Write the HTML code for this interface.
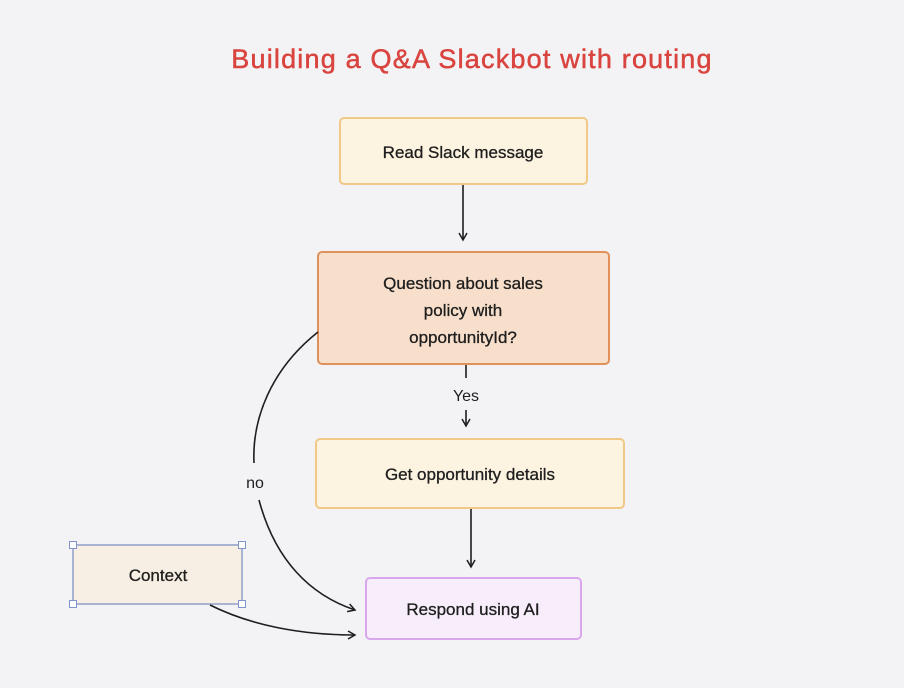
<!DOCTYPE html>
<html><head><meta charset="utf-8"><style>
html,body{margin:0;padding:0;background:#f3f3f6;}
svg{display:block;}
text{font-family:"Comic Sans MS","Liberation Sans",sans-serif;fill:#1e1e1e;}
</style></head><body>
<svg width="904" height="688" viewBox="0 0 904 688" xmlns="http://www.w3.org/2000/svg">
<defs><marker id="a" markerWidth="10" markerHeight="10" refX="8" refY="5" orient="auto" markerUnits="userSpaceOnUse"><path d="M1,1 L8,5 L1,9" fill="none" stroke="#1e1e1e" stroke-width="1.5"/></marker></defs>
<rect width="904" height="688" fill="#f3f3f6"/>
<text x="472" y="68" text-anchor="middle" font-size="27" style="fill:#d9443f;stroke:#d9443f;stroke-width:0.5" letter-spacing="1.2">Building a Q&amp;A Slackbot with routing</text>
<rect x="340" y="118" width="247" height="66" rx="4" fill="#fdf3e1" stroke="#f0c987" stroke-width="2"/>
<text x="463" y="158" text-anchor="middle" font-size="17" style="stroke:#1e1e1e;stroke-width:0.3">Read Slack message</text>
<rect x="318" y="252" width="291" height="112" rx="4" fill="#f8dfcb" stroke="#e0915a" stroke-width="2"/>
<g style="stroke:#1e1e1e;stroke-width:0.3">
<text x="463" y="289" text-anchor="middle" font-size="17">Question about sales</text>
<text x="463" y="316" text-anchor="middle" font-size="17">policy with</text>
<text x="463" y="343" text-anchor="middle" font-size="17">opportunityId?</text>
</g>
<rect x="316" y="439" width="308" height="69" rx="4" fill="#fdf3e1" stroke="#f0c987" stroke-width="2"/>
<text x="470" y="480" text-anchor="middle" font-size="17" style="stroke:#1e1e1e;stroke-width:0.3">Get opportunity details</text>
<rect x="366" y="578" width="215" height="61" rx="4" fill="#f8eefb" stroke="#d9a8ec" stroke-width="2"/>
<text x="473" y="615" text-anchor="middle" font-size="17" style="stroke:#1e1e1e;stroke-width:0.3">Respond using AI</text>
<rect x="73" y="545" width="169" height="59" fill="#f8efe4" stroke="#8fa0c8" stroke-width="1.5"/>
<text x="158" y="581" text-anchor="middle" font-size="17" style="stroke:#1e1e1e;stroke-width:0.3">Context</text>
<g fill="#fff" stroke="#7f95cc" stroke-width="1"><rect x="69.5" y="541.5" width="7" height="7"/><rect x="238.5" y="541.5" width="7" height="7"/><rect x="69.5" y="600.5" width="7" height="7"/><rect x="238.5" y="600.5" width="7" height="7"/></g>
<g stroke="#1e1e1e" stroke-width="1.6" fill="none">
<line x1="463" y1="185" x2="463" y2="240" marker-end="url(#a)"/>
<line x1="466" y1="365" x2="466" y2="378"/>
<line x1="466" y1="410" x2="466" y2="426" marker-end="url(#a)"/>
<line x1="471" y1="509" x2="471" y2="567" marker-end="url(#a)"/>
<path d="M318,332 C270,370 252,420 254,463"/>
<path d="M259,500 C275,560 310,595 355,610" marker-end="url(#a)"/>
<path d="M210,605 C250,625 300,635 355,635" marker-end="url(#a)"/>
</g>
<text x="466" y="401" text-anchor="middle" font-size="16">Yes</text>
<text x="255" y="488" text-anchor="middle" font-size="16">no</text>
</svg>
</body></html>
